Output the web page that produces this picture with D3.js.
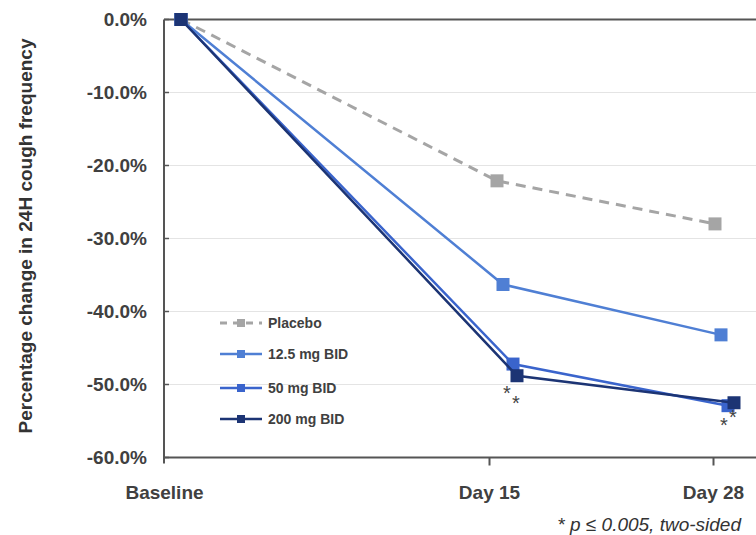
<!DOCTYPE html>
<html>
<head>
<meta charset="utf-8">
<script src="https://cdn.jsdelivr.net/npm/d3@7"></script>
<style>
  html, body { margin: 0; padding: 0; background: #fff; }
  svg { display: block; font-family: "Liberation Sans", Arial, Helvetica, sans-serif; }
</style>
</head>
<body>
<svg id="chart" width="756" height="535"></svg>
<script>
// ---- data ----
const categories = ["Baseline", "Day 15", "Day 28"];
const categoryDays = [0, 15, 28];
const seriesNames = ["Placebo", "12.5 mg BID", "50 mg BID", "200 mg BID"];
const placebo = [0, -22.1, -28.0];
const dose12_5 = [0, -36.3, -43.2];
const dose50 = [0, -47.2, -52.9];
const dose200 = [0, -48.8, -52.5];
const yTicks = [0, -10, -20, -30, -40, -50, -60];
const significance = [
  { series: 2, point: 1 }, { series: 3, point: 1 },
  { series: 2, point: 2 }, { series: 3, point: 2 }
];
const footnote = "* p \u2264 0.005, two-sided";
const yTitle = "Percentage change in 24H cough frequency";

// ---- styles ----
const colors = ["#a5a5a5", "#4f7fd4", "#3a64cc", "#1c3474"];
const widths = [3, 2.5, 2.5, 2.5];
const dashes = ["10,7", null, null, null];
// horizontal dodge (px) of each series' markers at each category
const dodge = [
  [17, 8, 2],
  [17, 14, 8],
  [17, 24, 15],
  [17, 28, 21]
];
const starOffsets = [[-6, 24], [-1, 23], [-4, 15], [-1, 10]];

const seriesValues = [placebo, dose12_5, dose50, dose200];

const svg = d3.select("#chart");
const mLeft = 164, mTop = 19.5, mBottom = 457.5, mRight = 760;

const y = d3.scaleLinear().domain([-60, 0]).range([mBottom, mTop]);
const x = d3.scaleLinear().domain(categoryDays).range([mLeft, 489, 713]);

// gridlines
svg.append("g").selectAll("line").data(yTicks.filter(t => t !== 0 && t !== -60)).join("line")
  .attr("x1", mLeft).attr("x2", mRight)
  .attr("y1", d => y(d)).attr("y2", d => y(d))
  .attr("stroke", "#e4e4e4").attr("stroke-width", 1.2);

// top frame line
svg.append("line").attr("x1", mLeft).attr("x2", mRight).attr("y1", y(0)).attr("y2", y(0))
  .attr("stroke", "#555").attr("stroke-width", 2);

// y axis
const yAxis = d3.axisLeft(y).tickValues(yTicks).tickSize(0).tickPadding(17)
  .tickFormat(d => d3.format(".1f")(d).replace("\u2212", "-") + "%");
const gy = svg.append("g").attr("transform", `translate(${mLeft},0)`).call(yAxis);
gy.select(".domain").remove();
gy.selectAll("text").attr("font-size", 19).attr("font-weight", "bold").attr("fill", "#404040");
svg.append("line").attr("x1", mLeft).attr("x2", mLeft).attr("y1", y(0)).attr("y2", mBottom + 6)
  .attr("stroke", "#555").attr("stroke-width", 2);
svg.append("g").selectAll("line").data(yTicks).join("line")
  .attr("x1", mLeft).attr("x2", mLeft + 5)
  .attr("y1", d => y(d)).attr("y2", d => y(d))
  .attr("stroke", "#555").attr("stroke-width", 1.5);

// x axis
const xAxis = d3.axisBottom(x).tickValues(categoryDays).tickSize(8).tickPadding(20)
  .tickFormat((d, i) => categories[i]);
const gx = svg.append("g").attr("transform", `translate(0,${mBottom})`).call(xAxis);
gx.select(".domain").attr("d", `M${mLeft},0H${mRight}`).attr("stroke", "#555").attr("stroke-width", 2);
gx.selectAll(".tick line").attr("stroke", "#555").attr("stroke-width", 2)
  .attr("display", (d, i) => i === 0 ? "none" : null);
gx.selectAll("text").attr("font-size", 19).attr("font-weight", "bold").attr("fill", "#404040");

// series lines and markers
const pts = (si) => seriesValues[si].map((v, i) => [x(categoryDays[i]) + dodge[si][i], y(v)]);
const line = d3.line();
const ms = 13;
seriesNames.forEach((name, si) => {
  const p = pts(si);
  svg.append("path").attr("d", line(p)).attr("fill", "none")
    .attr("stroke", colors[si]).attr("stroke-width", widths[si])
    .attr("stroke-dasharray", dashes[si]);
  svg.append("g").selectAll("rect").data(p).join("rect")
    .attr("x", d => d[0] - ms / 2).attr("y", d => d[1] - ms / 2)
    .attr("width", ms).attr("height", ms).attr("fill", colors[si]);
});

// significance stars
svg.append("g").selectAll("text").data(significance).join("text")
  .attr("x", (d, i) => pts(d.series)[d.point][0] + starOffsets[i][0])
  .attr("y", (d, i) => pts(d.series)[d.point][1] + starOffsets[i][1] + 11.5)
  .attr("text-anchor", "middle").attr("font-size", 20).attr("fill", "#444").text("*");

// legend
const legY = [323, 354, 388, 419];
const lg = svg.append("g");
seriesNames.forEach((name, si) => {
  const g = lg.append("g").attr("transform", `translate(220,${legY[si]})`);
  g.append("line").attr("x1", 0).attr("x2", 42).attr("y1", 0).attr("y2", 0)
    .attr("stroke", colors[si]).attr("stroke-width", widths[si])
    .attr("stroke-dasharray", si === 0 ? "7,6" : null);
  g.append("rect").attr("x", 17).attr("y", -4).attr("width", 8).attr("height", 8).attr("fill", colors[si]);
  g.append("text").attr("x", 48).attr("y", 5).attr("font-size", 14).attr("font-weight", "bold")
    .attr("fill", "#404040").text(name);
});

// y title
svg.append("text").attr("transform", "translate(32,236) rotate(-90)")
  .attr("text-anchor", "middle").attr("font-size", 19).attr("font-weight", "bold")
  .attr("fill", "#333").text(yTitle);

// footnote
svg.append("text").attr("x", 741).attr("y", 531).attr("text-anchor", "end")
  .attr("font-size", 19).attr("font-style", "italic").attr("fill", "#333").text(footnote);
</script>
</body>
</html>
